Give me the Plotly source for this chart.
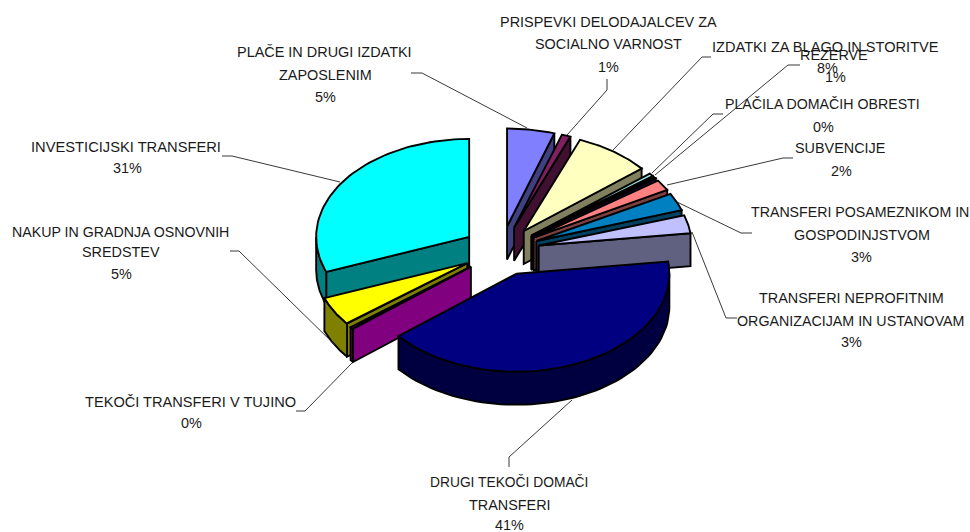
import math
import plotly.graph_objects as go

# ---- data ----
categories = ["PLAČE IN DRUGI IZDATKI ZAPOSLENIM", "PRISPEVKI DELODAJALCEV ZA SOCIALNO VARNOST",
              "IZDATKI ZA BLAGO IN STORITVE", "REZERVE", "PLAČILA DOMAČIH OBRESTI", "SUBVENCIJE",
              "TRANSFERI POSAMEZNIKOM IN GOSPODINJSTVOM", "TRANSFERI NEPROFITNIM ORGANIZACIJAM IN USTANOVAM",
              "DRUGI TEKOČI DOMAČI TRANSFERI", "TEKOČI TRANSFERI V TUJINO",
              "NAKUP IN GRADNJA OSNOVNIH SREDSTEV", "INVESTICIJSKI TRANSFERI"]
values = [5.0, 1.0, 8.0, 0.6, 0.4, 1.9, 3.0, 3.1, 41.0, 0.4, 4.8, 30.8]
percent_labels = ["5%", "1%", "8%", "1%", "0%", "2%", "3%", "3%", "41%", "0%", "5%", "31%"]
top_colors = ["#8080FF", "#802060", "#FFFFC0", "#A0E0E0", "#600080", "#FF8080",
              "#0080C0", "#C0C0FF", "#000080", "#FF00FF", "#FFFF00", "#00FFFF"]
side_colors = ["#404080", "#401030", "#808060", "#507070", "#300040", "#804040",
               "#004060", "#606080", "#000040", "#800080", "#808000", "#008080"]
# label: list of (line text, centre x, centre y, font size)
label_lines = [
    [("PLAČE IN DRUGI IZDATKI", 324, 52, 14.45), ("ZAPOSLENIM", 325, 75, 14.4), ("5%", 325, 97, 14.4)],
    [("PRISPEVKI DELODAJALCEV ZA", 608, 22, 14.45), ("SOCIALNO VARNOST", 608, 44, 14.4), ("1%", 608, 67, 14.4)],
    [("IZDATKI ZA BLAGO IN STORITVE", 825, 47, 14.6), ("8%", 827, 68, 14.4)],
    [("REZERVE", 834, 55, 14.4), ("1%", 835, 77, 14.4)],
    [("PLAČILA DOMAČIH OBRESTI", 822, 104, 14.2), ("0%", 823, 127, 14.4)],
    [("SUBVENCIJE", 840, 148, 14.4), ("2%", 841, 171, 14.4)],
    [("TRANSFERI POSAMEZNIKOM IN", 860, 212, 14.2), ("GOSPODINJSTVOM", 862, 235, 14.4), ("3%", 861, 257, 14.4)],
    [("TRANSFERI NEPROFITNIM", 851, 298, 14.4), ("ORGANIZACIJAM IN USTANOVAM", 851, 321, 14.25), ("3%", 851, 342, 14.4)],
    [("DRUGI TEKOČI DOMAČI", 509, 482, 13.8), ("TRANSFERI", 510, 505, 14.4), ("41%", 509, 525, 14.4)],
    [("TEKOČI TRANSFERI V TUJINO", 190, 402, 14.6), ("0%", 191, 423, 14.4)],
    [("NAKUP IN GRADNJA OSNOVNIH", 120, 232, 14.2), ("SREDSTEV", 121, 252, 14.4), ("5%", 121, 274, 14.4)],
    [("INVESTICIJSKI TRANSFERI", 126, 147, 14.7), ("31%", 127, 168, 14.4)],
]
leader_paths = [
    [(411, 73), (422, 73), (527, 128)],
    [(607, 79), (607, 90), (567, 135)],
    [(711, 57), (702, 57), (613, 150)],
    [(800, 65), (788, 65), (655, 175)],
    [(723, 114), (713, 114), (652, 173)],
    [(793, 158), (783, 158), (667, 185)],
    [(752, 233), (741, 233), (677, 202)],
    [(737, 318), (726, 318), (692, 232)],
    [(509, 467), (509, 457), (572, 400)],
    [(296, 411), (305, 411), (352, 363)],
    [(230, 251), (239, 251), (335, 345)],
    [(222, 156), (232, 156), (340, 182)],
]

# ---- pie geometry (projection of a tilted, exploded 3D pie) ----
CX, CY, RX, RY, DEPTH, EXPLODE = 501, 251, 153, 98, 33, 0.2527
OUTLINE = dict(color="black", width=1.9)


def rim(apex, ang, dy=0):
    return (apex[0] + RX * math.sin(ang), apex[1] - RY * math.cos(ang) + dy)


def arc(apex, a, b, dy=0, n=60):
    return [rim(apex, a + (b - a) * i / n, dy) for i in range(n + 1)]


total = sum(values)
wedges = []
cum = 0.0
for i, v in enumerate(values):
    a = cum / total * 2 * math.pi
    cum += v
    b = cum / total * 2 * math.pi
    m = (a + b) / 2
    apex = (CX + EXPLODE * RX * math.sin(m), CY - EXPLODE * RY * math.cos(m))
    wedges.append(dict(i=i, a=a, b=b, m=m, apex=apex))

fig = go.Figure()


def poly(points, fill):
    xs = [p[0] for p in points] + [points[0][0]]
    ys = [p[1] for p in points] + [points[0][1]]
    fig.add_trace(go.Scatter(x=xs, y=ys, mode="lines", fill="toself", fillcolor=fill,
                             line=OUTLINE, hoverinfo="skip", showlegend=False))


def radial_visible(w, ang):
    p = rim(w["apex"], ang)
    q = rim(w["apex"], w["m"])
    dx, dy = p[0] - w["apex"][0], p[1] - w["apex"][1]
    cross = dx * (q[1] - w["apex"][1]) - dy * (q[0] - w["apex"][0])
    return abs(dx) > 1e-6 and cross * dx < 0


for w in sorted(wedges, key=lambda w: w["apex"][1]):
    ap, a, b = w["apex"], w["a"], w["b"]
    side = side_colors[w["i"]]
    for ang in (a, b):
        if radial_visible(w, ang):
            p = rim(ap, ang)
            poly([ap, p, (p[0], p[1] + DEPTH), (ap[0], ap[1] + DEPTH)], side)
    lo, hi = max(a, math.pi / 2), min(b, 3 * math.pi / 2)
    if hi > lo:
        poly(arc(ap, lo, hi) + arc(ap, hi, lo, DEPTH), side)
    poly([ap] + arc(ap, a, b), top_colors[w["i"]])

for path in leader_paths:
    fig.add_trace(go.Scatter(x=[p[0] for p in path], y=[p[1] for p in path], mode="lines",
                             line=dict(color="#222222", width=0.9), hoverinfo="skip", showlegend=False))

annotations = []
for lines in label_lines:
    for text, x, y, size in lines:
        annotations.append(dict(x=x, y=y, text=text, showarrow=False, xanchor="center", yanchor="middle",
                                font=dict(family="Liberation Sans", size=size, color="#1a1a1a")))

fig.update_layout(
    width=970, height=532, margin=dict(l=0, r=0, t=0, b=0),
    paper_bgcolor="white", plot_bgcolor="white", showlegend=False, annotations=annotations,
    xaxis=dict(range=[0, 970], visible=False, fixedrange=True),
    yaxis=dict(range=[532, 0], visible=False, fixedrange=True),
)
fig.write_html("out.html", config=dict(displayModeBar=False),
               post_script="document.body.style.margin='0';document.body.style.overflow='hidden';")
